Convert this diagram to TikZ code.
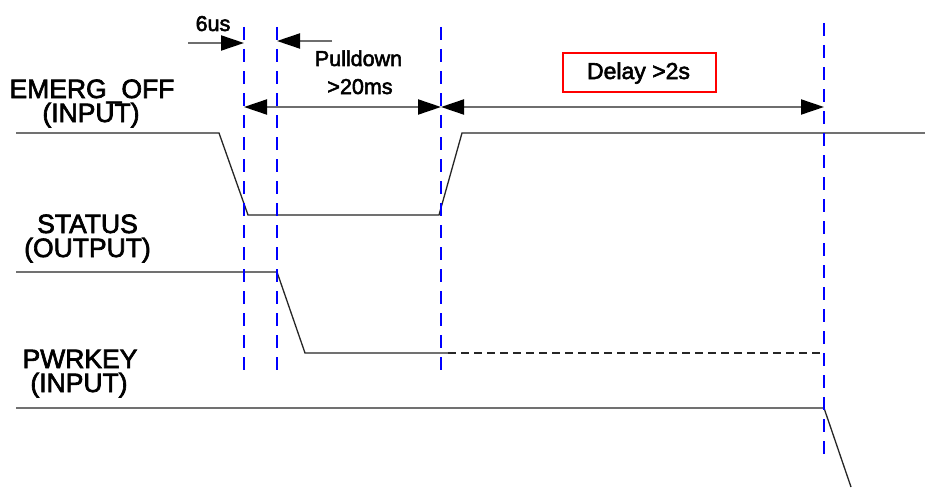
\documentclass[tikz,border=0pt]{standalone}
\usepackage{fontspec}
\setmainfont{Liberation Sans}[UprightFeatures={FakeBold=2.5}]
\usetikzlibrary{arrows.meta}
\definecolor{arrgray}{RGB}{110,110,110}
\begin{document}
\begin{tikzpicture}[x=1pt,y=-1pt,
  wave/.style={draw=black!85,line width=1.3pt},
  dashwave/.style={wave,dash pattern=on 8pt off 5pt},
  guide/.style={draw=blue,line width=1.2pt,dash pattern=on 13pt off 9pt},
  dimline/.style={draw=arrgray,line width=2pt},
  tipr/.style={-{Triangle[length=23pt,width=15pt,color=black]}},
  tipb/.style={{Triangle[length=23pt,width=15pt,color=black]}-{Triangle[length=23pt,width=15pt,color=black]}},
  siglabel/.style={font=\fontsize{26.5}{28}\selectfont,anchor=base,inner sep=0pt},
  small/.style={font=\fontsize{21.5}{24}\selectfont,anchor=base,inner sep=0pt},
]
\useasboundingbox[fill=white] (0,0) rectangle (925,487);

% guide coordinates
\coordinate (g1t) at (244,27); \coordinate (g1b) at (244,372);
\coordinate (g2t) at (277,27); \coordinate (g2b) at (277,372);
\coordinate (g3t) at (441,27); \coordinate (g3b) at (441,372);
\coordinate (g4t) at (824,23); \coordinate (g4b) at (824,460);

% signal labels
\node[siglabel] (emerg) at (92,98) {EMERG\_OFF};
\node[siglabel] (emergin) at (91,122) {(INPUT)};
\node[siglabel] (status) at (87.5,233) {STATUS};
\node[siglabel] (statusout) at (87.5,257) {(OUTPUT)};
\node[siglabel] (pwrkey) at (80,368) {PWRKEY};
\node[siglabel] (pwrkeyin) at (79,392) {(INPUT)};

% waveforms
\draw[wave] (16,133) -- (219,133) -- (248,215) -- (439,215) -- (462,133) -- (925,133);
\draw[wave] (16,272) -- (277,272) -- (305,353) -- (448,353);
\draw[dashwave] (448,353) -- (824,353);
\draw[wave] (16,408) -- (824,408) -- (851,487);

% guides
\draw[guide] (g1t) -- (g1b);
\draw[guide] (g2t) -- (g2b);
\draw[guide] (g3t) -- (g3b);
\draw[guide] (g4t) -- (g4b);

% dimension arrows
\coordinate (a6s) at (188,43);
\coordinate (a6e) at (244,43);
\draw[dimline,tipr] (a6s) -- (a6e);
\coordinate (aps) at (332,41);
\coordinate (ape) at (277,41);
\draw[dimline,tipr] (aps) -- (ape);
\coordinate (d1a) at (244,107);
\coordinate (d1b) at (441,107);
\coordinate (d2b) at (824,107);
\draw[dimline,tipb] (d1a) -- (d1b);
\draw[dimline,tipb] (d1b) -- (d2b);

% texts
\node[small] (t6us) at (213,31) {6us};
\node[small] (tpull) at (358.5,66) {Pulldown};
\node[small] (t20) at (360,94) {>20ms};
\node[draw=red,line width=2.6pt,minimum width=153pt,minimum height=39pt,inner sep=0pt] (delaybox) at (639.5,72.5) {};
\node[font=\fontsize{23}{26}\selectfont,anchor=base,inner sep=0pt] (delay) at (638.5,79) {Delay >2s};
\end{tikzpicture}
\end{document}
